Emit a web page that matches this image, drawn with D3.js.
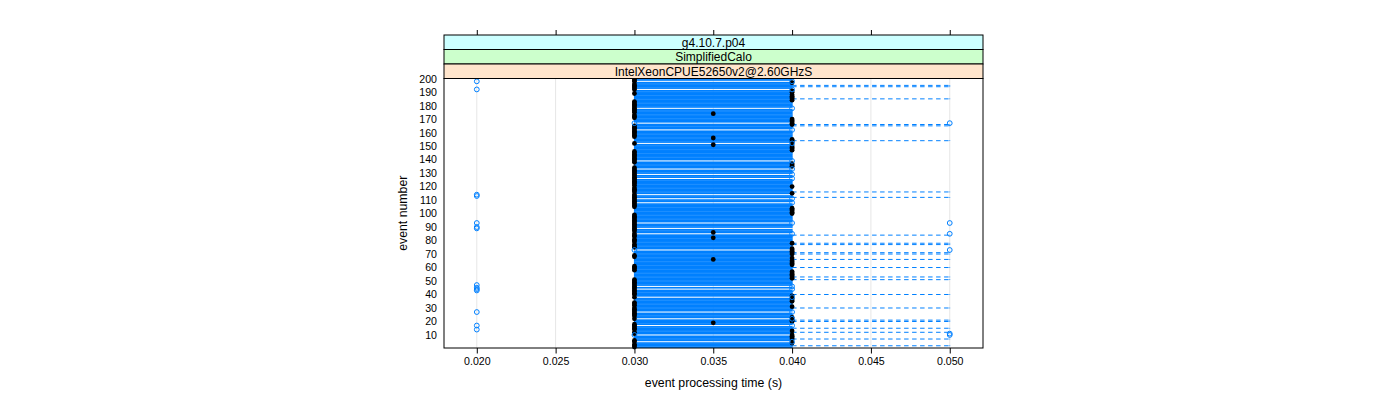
<!DOCTYPE html>
<html><head><meta charset="utf-8">
<script src="https://cdn.jsdelivr.net/npm/d3@7"></script>
<style>
body{margin:0;background:#fff}
svg{display:block}
text{font-family:"Liberation Sans", Arial, Helvetica, sans-serif;fill:#000}
</style>
</head><body>
<svg id="chart" width="1400" height="400"></svg>
<script>
// ---- data ----
const stripLabels = ["g4.10.7.p04", "SimplifiedCalo", "IntelXeonCPUE52650v2@2.60GHzS"];
const stripColors = ["#ccffff", "#ccffcc", "#ffe5cc"];
const xTicks = [0.020, 0.025, 0.030, 0.035, 0.040, 0.045, 0.050];
const xTickLabels = ["0.020", "0.025", "0.030", "0.035", "0.040", "0.045", "0.050"];
const yTicks = [10, 20, 30, 40, 50, 60, 70, 80, 90, 100, 110, 120, 130, 140, 150, 160, 170, 180, 190, 200];
const eventNumbers = d3.range(1, 201);
const hingeLow = 0.030;
const hingeHigh = 0.040;
const medianMid = 0.035;
const whiskerTop = 0.050;
// events whose box collapses to 0.030 (all values at 0.030 except outliers)
const flatLowEvents = [198, 192, 178, 162, 152, 139, 133, 129, 126, 114, 111, 108, 93, 89, 85, 46, 44, 38, 27, 22, 17, 5];
// events whose box collapses to 0.040
const flatHighEvents = [167, 73, 10];
const median040Events = [197, 191, 190, 188, 187, 186, 185, 184, 170, 169, 168, 166, 155, 154, 153, 150, 149, 148, 147, 137, 136, 135, 120, 115, 104, 103, 102, 101, 100, 78, 74, 72, 71, 70, 67, 65, 64, 63, 62, 57, 56, 55, 54, 53, 52, 39, 37, 36, 35, 31, 23, 21, 20, 13, 9, 8, 7, 4];
const median035Events = [174, 156, 151, 86, 82, 66, 19];
const whisker050Events = [195, 194, 185, 166, 165, 154, 116, 112, 84, 78, 77, 71, 70, 66, 60, 53, 51, 40, 30, 21, 20, 15, 12, 7, 2];
const outliers020 = [198, 192, 114, 113, 93, 90, 89, 47, 45, 44, 43, 27, 17, 14];
const outliers030 = [167, 73, 10];
const outliers040 = [198, 192, 178, 162, 152, 139, 133, 129, 126, 111, 108, 93, 85, 46, 44, 38, 27, 22, 17, 5];
const outliers050 = [167, 93, 85, 73, 11, 10];

// ---- layout ----
const panel = {left: 444, right: 983, top: 78.5, bottom: 348};
const stripTop = 35, stripH = 14.5;
const blue = "#0080ff";

const svg = d3.select("#chart");
const x = d3.scaleLinear().domain([0.01792, 0.05211]).range([panel.left, panel.right]);
const y = d3.scaleLinear().domain([0.35, 200.1]).range([panel.bottom, panel.top]);
const unit = Math.abs(y(1) - y(0));
const bw = 0.5 * unit;

// build stats
const stats = eventNumbers.map(e => {
  let q1 = hingeLow, q3 = hingeHigh, med = hingeLow;
  if (flatLowEvents.includes(e)) { q3 = hingeLow; }
  if (flatHighEvents.includes(e)) { q1 = hingeHigh; med = hingeHigh; }
  if (median040Events.includes(e)) med = hingeHigh;
  if (median035Events.includes(e)) med = medianMid;
  const whi = whisker050Events.includes(e) ? whiskerTop : q3;
  const out = [];
  if (outliers020.includes(e)) out.push(0.020);
  if (outliers030.includes(e)) out.push(0.030);
  if (outliers040.includes(e)) out.push(0.040);
  if (outliers050.includes(e)) out.push(0.050);
  return {e, q1, q3, med, whi, out};
});

// grid
svg.append("g").selectAll("line").data(xTicks).join("line")
  .attr("x1", d => x(d)).attr("x2", d => x(d))
  .attr("y1", panel.top).attr("y2", panel.bottom)
  .attr("stroke", "#e6e6e6").attr("stroke-width", 1);

const g = svg.append("g");
// boxes
g.selectAll("rect.box").data(stats).join("rect").attr("class", "box")
  .attr("x", d => x(d.q1)).attr("width", d => x(d.q3) - x(d.q1))
  .attr("y", d => y(d.e) - bw / 2).attr("height", bw)
  .attr("fill", "none").attr("stroke", blue).attr("stroke-width", 1);
// whiskers
const wh = stats.filter(d => d.whi > d.q3);
g.selectAll("line.wh").data(wh).join("line").attr("class", "wh")
  .attr("x1", d => x(d.q3)).attr("x2", d => x(d.whi))
  .attr("y1", d => y(d.e)).attr("y2", d => y(d.e))
  .attr("stroke", blue).attr("stroke-width", 1).attr("stroke-dasharray", "4.5,3.5");
g.selectAll("line.umb").data(wh).join("line").attr("class", "umb")
  .attr("x1", d => x(d.whi)).attr("x2", d => x(d.whi))
  .attr("y1", d => y(d.e) - bw / 2).attr("y2", d => y(d.e) + bw / 2)
  .attr("stroke", blue).attr("stroke-width", 1);
// medians
g.selectAll("circle.med").data(stats).join("circle").attr("class", "med")
  .attr("cx", d => x(d.med)).attr("cy", d => y(d.e)).attr("r", 2.4)
  .attr("fill", "#000");
// outliers
const outs = stats.flatMap(d => d.out.map(v => ({e: d.e, v})));
g.selectAll("circle.out").data(outs).join("circle").attr("class", "out")
  .attr("cx", d => x(d.v)).attr("cy", d => y(d.e)).attr("r", 2.4)
  .attr("fill", "none").attr("stroke", blue).attr("stroke-width", 1);

// panel border
svg.append("rect").attr("x", panel.left).attr("y", panel.top)
  .attr("width", panel.right - panel.left).attr("height", panel.bottom - panel.top)
  .attr("fill", "none").attr("stroke", "#000").attr("stroke-width", 1);

// strips
stripLabels.forEach((lab, i) => {
  const sy = stripTop + i * stripH;
  svg.append("rect").attr("x", panel.left).attr("y", sy)
    .attr("width", panel.right - panel.left).attr("height", stripH)
    .attr("fill", stripColors[i]).attr("stroke", "#000").attr("stroke-width", 1);
  svg.append("text").attr("x", (panel.left + panel.right) / 2).attr("y", sy + stripH / 2 + 4.3)
    .attr("text-anchor", "middle").attr("font-size", "12px").text(lab);
});

// x axis bottom
const xb = d3.axisBottom(x).tickValues(xTicks).tickFormat((d, i) => xTickLabels[i]).tickSize(5.5).tickPadding(4);
const xg = svg.append("g").attr("transform", `translate(0,${panel.bottom})`).call(xb);
xg.select(".domain").remove();
xg.selectAll("line").attr("stroke", "#000");
xg.selectAll("text").attr("font-size", "10.6px").attr("font-family", "Liberation Sans, Arial, sans-serif");
// x axis top ticks (no labels)
const xt = d3.axisTop(x).tickValues(xTicks).tickFormat("").tickSize(5);
const xtg = svg.append("g").attr("transform", `translate(0,${stripTop})`).call(xt);
xtg.select(".domain").remove();
xtg.selectAll("line").attr("stroke", "#000");

// y axis labels (no tick marks)
const ya = d3.axisLeft(y).tickValues(yTicks).tickSize(0).tickPadding(7);
const yg = svg.append("g").attr("transform", `translate(${panel.left},0)`).call(ya);
yg.select(".domain").remove();
yg.selectAll("text").attr("font-size", "10.6px").attr("font-family", "Liberation Sans, Arial, sans-serif");

// axis titles
svg.append("text").attr("x", (panel.left + panel.right) / 2).attr("y", 387)
  .attr("text-anchor", "middle").attr("font-size", "12.3px").text("event processing time (s)");
svg.append("text").attr("transform", `translate(407,${(panel.top + panel.bottom) / 2}) rotate(-90)`)
  .attr("text-anchor", "middle").attr("font-size", "12.3px").text("event number");
</script>
</body></html>
